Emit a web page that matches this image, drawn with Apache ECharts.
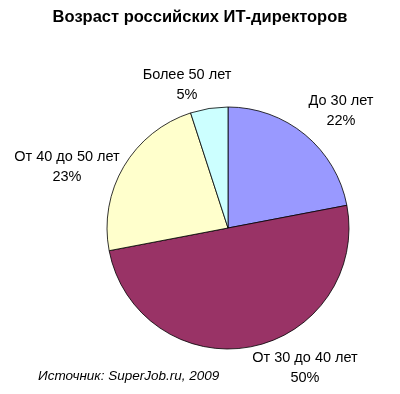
<!DOCTYPE html>
<html><head><meta charset="utf-8">
<script src="https://cdn.jsdelivr.net/npm/echarts@6/dist/echarts.min.js"></script>
<style>html,body{margin:0;padding:0;background:#fff}#c{width:400px;height:394px}</style>
</head><body><div id="c"></div>
<script>
const categories = ["До 30 лет", "От 30 до 40 лет", "От 40 до 50 лет", "Более 50 лет"];
const values = [22, 50, 23, 5];
const colors = ["#9999FF", "#993366", "#FFFFCC", "#CCFFFF"];
const labelPos = [[341, 111], [305, 368], [67, 167], [187, 85]];

const chart = echarts.init(document.getElementById('c'));
chart.setOption({
  animation: false,
  backgroundColor: '#fff',
  title: {
    text: 'Возраст российских ИТ-директоров',
    left: 'center', top: 4,
    textStyle: {fontFamily: 'Liberation Sans', fontSize: 16.5, fontWeight: 'bold', color: '#000'}
  },
  graphic: [{
    type: 'text', left: 38, top: 369,
    style: {text: 'Источник: SuperJob.ru, 2009', font: 'italic 13.5px "Liberation Sans"', fill: '#000'}
  }],
  series: [{
    type: 'pie',
    center: [228, 228],
    radius: 121,
    startAngle: 90,
    clockwise: true,
    data: categories.map((n, i) => ({name: n, value: values[i], itemStyle: {color: colors[i]}})),
    itemStyle: {borderColor: '#000', borderWidth: 0.8},
    label: {
      show: true, position: 'outside', overflow: 'none', width: 200,
      formatter: p => p.name + '\n' + p.value + '%',
      fontFamily: 'Liberation Sans', fontSize: 14.5, color: '#000', lineHeight: 20, align: 'center'
    },
    labelLine: {show: false},
    labelLayout: p => ({x: labelPos[p.dataIndex][0], y: labelPos[p.dataIndex][1], align: 'center', verticalAlign: 'middle'})
  }]
});
</script></body></html>
